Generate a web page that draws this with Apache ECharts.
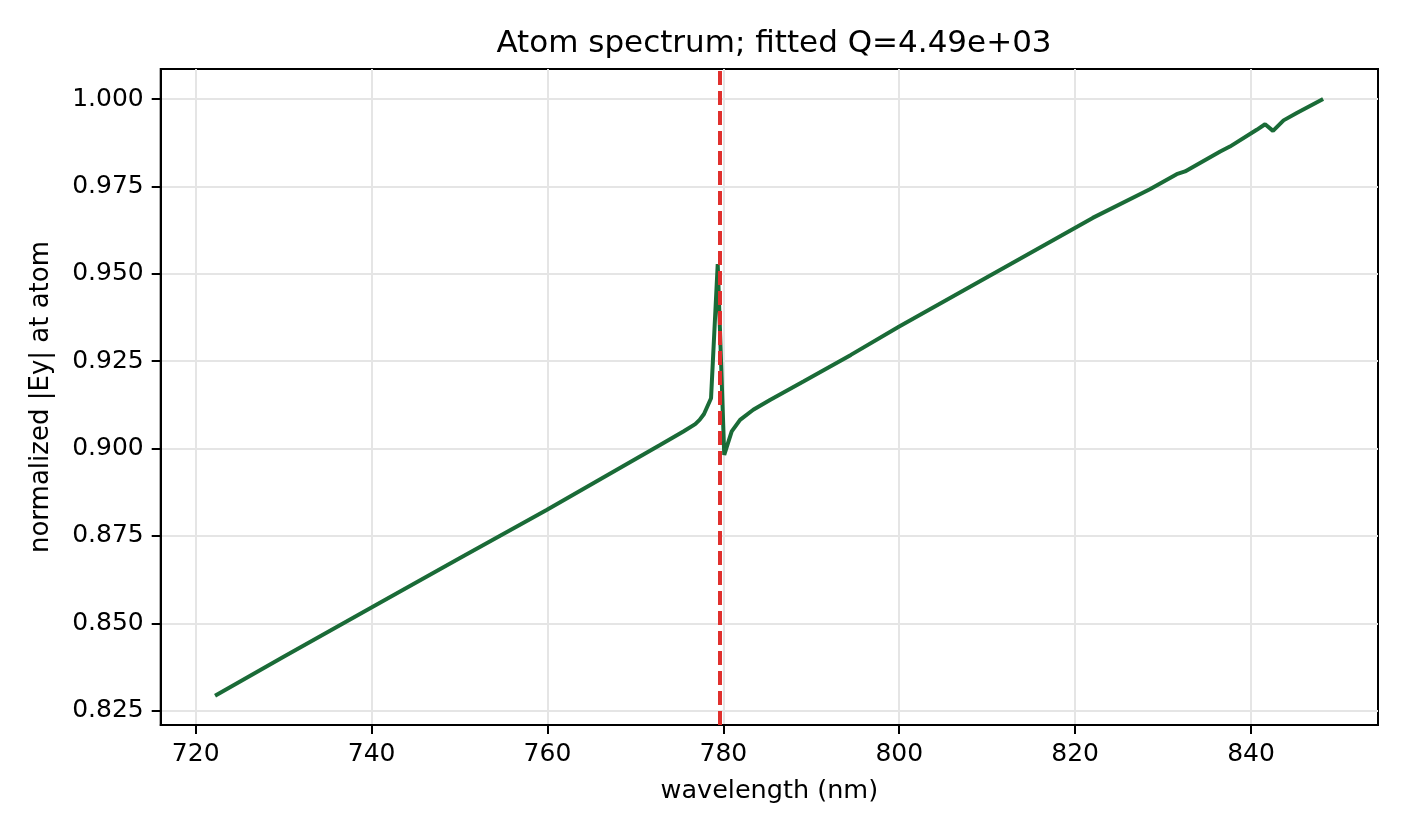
<!DOCTYPE html>
<html>
<head>
<meta charset="utf-8">
<script src="https://cdn.jsdelivr.net/npm/echarts@6/dist/echarts.min.js"></script>
<style>
html,body{margin:0;padding:0;background:#fff;}
#chart{width:1406px;height:836px;}
</style>
</head>
<body>
<div id="chart"></div>
<script>
const wavelength = [722.2, 730.0, 740.95, 750.0, 759.9, 766.0, 772.8, 775.45, 776.8, 777.3, 777.8, 778.6, 779.36, 780.1, 780.95, 781.9, 783.4, 785.3, 789.1, 794.5, 800.0, 822.0, 828.5, 831.55, 832.5, 836.5, 837.6, 840.65, 841.6, 842.5, 843.7, 845.2, 848.2];
const normEy = [0.8293, 0.8404, 0.8559, 0.8686, 0.8824, 0.8912, 0.9010, 0.9049, 0.9070, 0.9082, 0.9099, 0.9144, 0.9528, 0.8982, 0.9049, 0.9082, 0.9111, 0.9139, 0.9192, 0.9268, 0.9349, 0.9660, 0.9742, 0.9785, 0.9793, 0.9850, 0.9864, 0.9912, 0.9928, 0.9909, 0.9939, 0.9960, 1.0000];
const resonance = 779.6;
const xTicks = [720, 740, 760, 780, 800, 820, 840];
const yTicks = [0.825, 0.850, 0.875, 0.900, 0.925, 0.950, 0.975, 1.000];
const titleText = 'Atom spectrum; fitted Q=4.49e+03';

const FONT = 'DejaVu Sans';
const chart = echarts.init(document.getElementById('chart'), null, {renderer: 'canvas'});
const gridLine = {show: true, lineStyle: {color: '#e5e5e5', width: 2}};
chart.setOption({
  animation: false,
  backgroundColor: '#ffffff',
  title: {
    text: titleText, left: 769, top: 23, textAlign: 'center',
    textStyle: {fontFamily: FONT, fontSize: 31, fontWeight: 'normal', color: '#000'}
  },
  grid: {left: 160.7, right: 28, top: 69, bottom: 111, containLabel: false, show: true, borderColor: '#000', borderWidth: 2},
  xAxis: {
    type: 'value', min: 716.02, max: 854.44,
    name: 'wavelength (nm)', nameLocation: 'middle', nameGap: 53,
    nameTextStyle: {fontFamily: FONT, fontSize: 25.5, color: '#000'},
    axisLine: {show: true, onZero: false, lineStyle: {color: '#000', width: 2}},
    axisTick: {show: true, length: 9, lineStyle: {color: '#000', width: 2}, customValues: xTicks},
    axisLabel: {fontFamily: FONT, fontSize: 25, color: '#000', margin: 17, customValues: xTicks, formatter: v => String(Math.round(v))},
    splitLine: gridLine
  },
  yAxis: {
    type: 'value', min: 0.8209, max: 1.0086,
    name: 'normalized |Ey| at atom', nameLocation: 'middle', nameGap: 106, nameRotate: 90,
    nameTextStyle: {fontFamily: FONT, fontSize: 26, color: '#000'},
    axisLine: {show: true, onZero: false, lineStyle: {color: '#000', width: 2}},
    axisTick: {show: true, length: 9, lineStyle: {color: '#000', width: 2}, customValues: yTicks},
    axisLabel: {fontFamily: FONT, fontSize: 25, color: '#000', margin: 17, customValues: yTicks, formatter: v => v.toFixed(3)},
    splitLine: gridLine
  },
  series: [{
    type: 'line',
    data: wavelength.map((w, i) => [w, normEy[i]]),
    showSymbol: false, symbol: 'none',
    lineStyle: {color: '#1a6b37', width: 4},
    z: 3,
    markLine: {
      silent: true, symbol: ['none', 'none'], label: {show: false},
      lineStyle: {color: '#e0302d', width: 4, type: [14, 6]},
      data: [{xAxis: resonance}],
      z: 4
    }
  }]
});
</script>
</body>
</html>
